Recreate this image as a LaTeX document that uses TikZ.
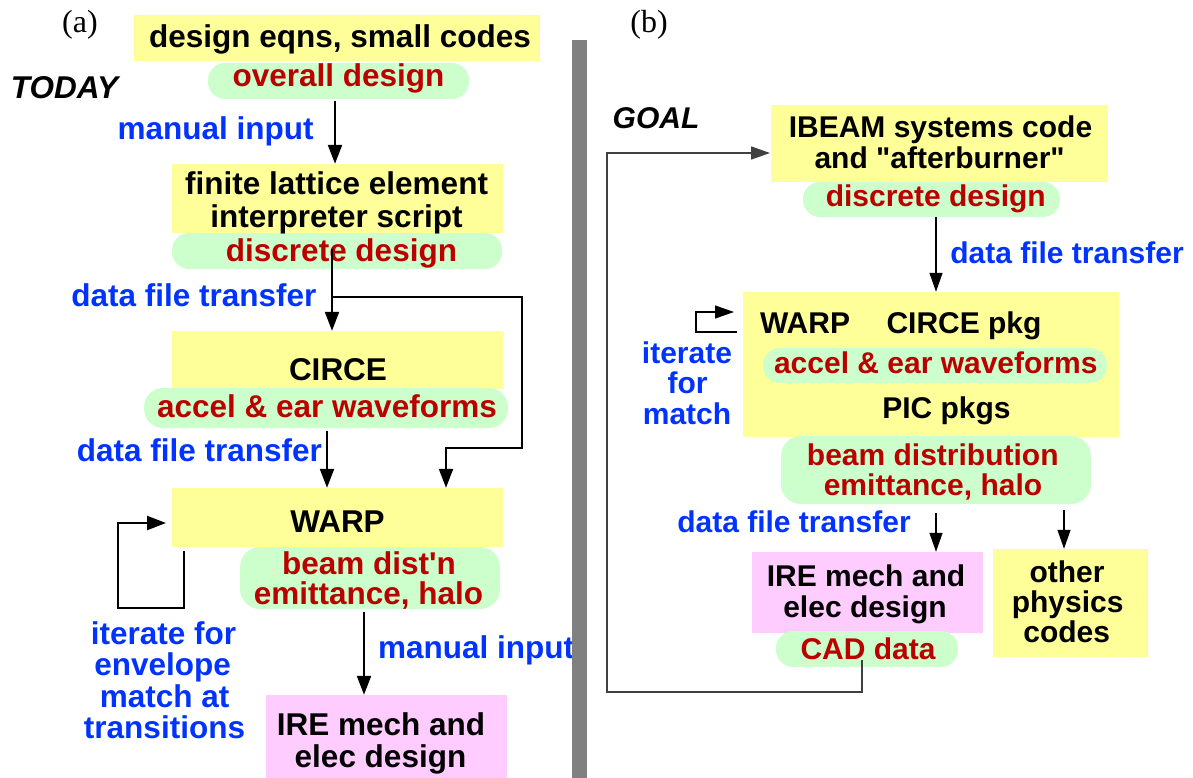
\documentclass[tikz,border=0pt]{standalone}
\usepackage{fontspec}
\setmainfont{Liberation Sans}
\newfontfamily\dsans{Liberation Sans}
\newfontfamily\panelserif{Liberation Serif}
\usetikzlibrary{arrows.meta}
\definecolor{boxyellow}{HTML}{FFFF99}
\definecolor{boxgreen}{HTML}{CCFFCC}
\definecolor{boxpink}{HTML}{FFCCFF}
\definecolor{txtred}{RGB}{187,0,0}
\definecolor{txtblue}{RGB}{0,51,255}
\definecolor{bargray}{HTML}{808080}
\definecolor{fbgray}{HTML}{404040}
\tikzset{
  ybox/.style={fill=boxyellow, draw=none, inner sep=0pt},
  pbox/.style={fill=boxpink, draw=none, inner sep=0pt},
  gpill/.style={fill=boxgreen, draw=none, inner sep=0pt, rounded corners=17pt},
  fa/.style={font=\fontsize{31.5}{33}\selectfont\dsans\bfseries, inner sep=0pt, anchor=base},
  fb/.style={font=\fontsize{30}{31}\selectfont\dsans\bfseries, inner sep=0pt, anchor=base},
  ktxt/.style={text=black},
  rtxt/.style={text=txtred},
  btxt/.style={text=txtblue},
  ptag/.style={font=\fontsize{32}{34}\selectfont\panelserif, inner sep=0pt, anchor=base},
  arra/.style={line width=2.2pt, -{Triangle[width=14pt,length=19pt]}},
  arrb/.style={line width=1.3pt, -{Triangle[width=13pt,length=19pt]}},
  fbline/.style={line width=1.6pt, draw=fbgray, -{Triangle[width=13pt,length=19pt]}},
}
\begin{document}
\begin{tikzpicture}[x=1pt, y=-1pt]
\useasboundingbox (0,0) rectangle (1193,778);

% ---------- panel (a) boxes ----------
\node[ybox, minimum width=406pt, minimum height=46pt] (ya1) at (337,38) {};
\node[gpill, minimum width=261pt, minimum height=36pt] (ga1) at (338.5,81) {};
\node[ybox, minimum width=331pt, minimum height=69pt] (ya2) at (337.5,198.5) {};
\node[gpill, minimum width=330pt, minimum height=36pt] (ga2) at (337,251) {};
\node[ybox, minimum width=331pt, minimum height=58pt] (ya3) at (337.5,360) {};
\node[gpill, minimum width=364pt, minimum height=40pt, rounded corners=19pt] (ga3) at (326,408) {};
\node[ybox, minimum width=331pt, minimum height=59pt] (ya4) at (337.5,517.5) {};
\node[gpill, minimum width=260pt, minimum height=62pt, rounded corners=20pt] (ga4) at (370,578) {};
\node[pbox, minimum width=241pt, minimum height=83pt] (pa5) at (386.5,736.5) {};

% ---------- panel (b) boxes ----------
\node[ybox, minimum width=337pt, minimum height=77pt] (yb1) at (939.5,143.5) {};
\node[gpill, minimum width=257pt, minimum height=35pt] (gb1) at (931.5,199.5) {};
\node[ybox, minimum width=376pt, minimum height=145pt] (yb2) at (931,364.5) {};
\node[gpill, minimum width=344pt, minimum height=35pt] (gb2) at (935,365.5) {};
\node[gpill, minimum width=310pt, minimum height=68pt, rounded corners=20pt] (gb3) at (936,470) {};
\node[pbox, minimum width=231pt, minimum height=81pt] (pb4) at (867.5,592.5) {};
\node[gpill, minimum width=182pt, minimum height=36pt] (gb4) at (867,649) {};
\node[ybox, minimum width=155pt, minimum height=108pt] (yb5) at (1070.5,603) {};

% ---------- panel (a) texts ----------
\node[ptag] (taga) at (80,33) {(a)};
\node[fa, ktxt] (t1) at (340,47.5) {design eqns, small codes};
\node[fa, rtxt] (t2) at (338.5,87) {overall design};
\node[fa, ktxt, font=\fontsize{31.5}{33}\selectfont\dsans\bfseries\itshape] (today) at (64.5,99) {TODAY};
\node[fa, btxt] (mi1) at (215.5,140) {manual input};
\node[fa, ktxt] (t3a) at (336.6,194) {finite lattice element};
\node[fa, ktxt] (t3b) at (336.5,227) {interpreter script};
\node[fa, rtxt] (t4) at (341.5,261) {discrete design};
\node[fa, btxt] (dft1) at (194,306) {data file transfer};
\node[fa, ktxt] (t5) at (338,380) {CIRCE};
\node[fa, rtxt] (t6) at (327,417.5) {accel \& ear waveforms};
\node[fa, btxt] (dft2) at (199.5,461.5) {data file transfer};
\node[fa, ktxt] (t7) at (337.5,532) {WARP};
\node[fa, rtxt] (t8a) at (369,574) {beam dist'n};
\node[fa, rtxt] (t8b) at (368.5,604) {emittance, halo};
\node[fa, btxt, anchor=base west] (mi2) at (378,658) {manual input};
\node[fa, btxt] (it1) at (163.5,644) {iterate for};
\node[fa, btxt] (it2) at (162.7,675) {envelope};
\node[fa, btxt] (it3) at (164.7,707) {match at};
\node[fa, btxt] (it4) at (164.5,738) {transitions};
\node[fa, ktxt] (t9a) at (381,735) {IRE mech and};
\node[fa, ktxt] (t9b) at (380.5,767) {elec design};

% ---------- panel (b) texts ----------
\node[ptag] (tagb) at (649,33) {(b)};
\node[fb, ktxt, font=\fontsize{30}{31}\selectfont\dsans\bfseries\itshape] (goal) at (656,129) {GOAL};
\node[fb, ktxt] (u1a) at (940.5,138) {IBEAM systems code};
\node[fb, ktxt] (u1b) at (939.6,168) {and "afterburner"};
\node[fb, rtxt] (u2) at (935.8,207) {discrete design};
\node[fb, btxt] (dft3) at (1067,263) {data file transfer};
\node[fb, ktxt] (u3a) at (805,333) {WARP};
\node[fb, ktxt] (u3b) at (964,333) {CIRCE pkg};
\node[fb, rtxt] (u4) at (935.8,373) {accel \& ear waveforms};
\node[fb, ktxt] (u5) at (946.5,418) {PIC pkgs};
\node[fb, btxt] (ib1) at (687,363) {iterate};
\node[fb, btxt] (ib2) at (687.5,393) {for};
\node[fb, btxt] (ib3) at (687,424) {match};
\node[fb, rtxt] (u6a) at (932.8,465) {beam distribution};
\node[fb, rtxt] (u6b) at (933,495) {emittance, halo};
\node[fb, btxt] (dft4) at (794,532) {data file transfer};
\node[fb, ktxt] (u7a) at (866,586) {IRE mech and};
\node[fb, ktxt] (u7b) at (865,617) {elec design};
\node[fb, rtxt] (u8) at (868,659) {CAD data};
\node[fb, ktxt] (u9a) at (1067,582) {other};
\node[fb, ktxt] (u9b) at (1067.6,612) {physics};
\node[fb, ktxt] (u9c) at (1066.7,642) {codes};

% ---------- panel (a) connectors ----------
\draw[arra] ([xshift=-3.5pt,yshift=-2pt]ga1.south) -- ([xshift=-2.5pt]ya2.north);
\coordinate (j1) at (332,297);
\coordinate (c1) at (522,297);
\coordinate (c2) at (446,448);
\draw[arra] ([xshift=-5pt,yshift=2pt]ga2.center) -- ([xshift=-5.5pt]ya3.north);
\draw[arra] (j1) -- (c1) |- (c2) -- (ya4.north -| c2);
\draw[arra] ([xshift=1pt,yshift=-3pt]ga3.south) -- ([xshift=-10.5pt]ya4.north);
\draw[arra] ([xshift=-6pt,yshift=-3pt]ga4.south) -- ([xshift=-22.5pt]pa5.north);
\coordinate (l1) at (184,551);
\coordinate (l2) at (118,608);
\coordinate (l3) at (166,523);
\draw[arra] (l1) |- (l2) |- (l3);

% ---------- panel (b) connectors ----------
\draw[arrb] ([xshift=4.5pt]gb1.south) -- ([xshift=5pt]yb2.north);
\draw[arrb] ([xshift=0pt,yshift=-9pt]gb3.south) -- ([xshift=68.5pt]pb4.north);
\draw[arrb] ([xshift=128pt,yshift=-6pt]gb3.south) -- ([xshift=-6.5pt]yb5.north);
\coordinate (s0) at (737,332);
\coordinate (s1) at (696,332);
\coordinate (s2) at (734,312);
\draw[arrb] (s0) -- (s1) |- (s2);
\coordinate (f0) at (862,660);
\coordinate (f1) at (607,692);
\coordinate (f2) at (770,153);
\draw[fbline] (f0) |- (f1) |- (f2);

% ---------- separator ----------
\fill[bargray] (572,40) rectangle (587,778);
\end{tikzpicture}
\end{document}
